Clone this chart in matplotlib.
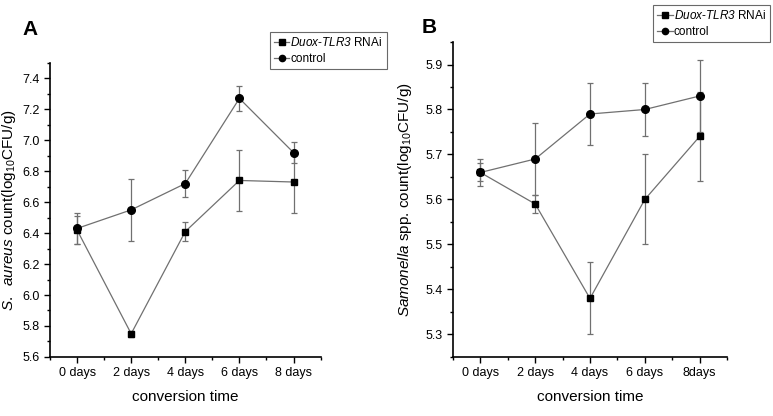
import matplotlib
matplotlib.use('Agg')
import matplotlib.pyplot as plt
from matplotlib.ticker import MultipleLocator
from matplotlib.lines import Line2D

FONT = 'Liberation Sans'
plt.rcParams['font.family'] = [FONT, 'DejaVu Sans']
plt.rcParams['mathtext.fontset'] = 'custom'
plt.rcParams['mathtext.rm'] = FONT
plt.rcParams['mathtext.it'] = FONT + ':italic'
# bf slot used for italic text that contains digits (mathit keeps digits upright)
plt.rcParams['mathtext.bf'] = FONT + ':italic'

days_a = ['0 days', '2 days', '4 days', '6 days', '8 days']
days_b = ['0 days', '2 days', '4 days', '6 days', '8days']

# panel A: S. aureus
a_rnai = [6.42, 5.75, 6.41, 6.74, 6.73]
a_rnai_err = [0.09, 0.02, 0.06, 0.20, 0.20]
a_ctrl = [6.43, 6.55, 6.72, 7.27, 6.92]
a_ctrl_err = [0.10, 0.20, 0.09, 0.08, 0.07]

# panel B: Salmonella
b_rnai = [5.66, 5.59, 5.38, 5.60, 5.74]
b_rnai_err = [0.02, 0.02, 0.08, 0.10, 0.10]
b_ctrl = [5.66, 5.69, 5.79, 5.80, 5.83]
b_ctrl_err = [0.03, 0.08, 0.07, 0.06, 0.08]

LINE = '#707070'
RNAI_LABEL = r'$\mathbf{Duox}$-$\mathbf{TLR3}$ RNAi'


def draw(ax, labels, rnai, rnai_err, ctrl, ctrl_err, ylim, major, minor):
    x = list(range(len(labels)))
    ax.errorbar(x, rnai, yerr=rnai_err, fmt='s-', color=LINE, mfc='black', mec='black',
                ms=5, lw=0.9, elinewidth=0.9, capsize=2.5, capthick=0.9)
    ax.errorbar(x, ctrl, yerr=ctrl_err, fmt='o-', color=LINE, mfc='black', mec='black',
                ms=5.5, lw=0.9, elinewidth=0.9, capsize=2.5, capthick=0.9)
    ax.set_xlim(-0.5, 4.5)
    ax.set_ylim(*ylim)
    ax.set_xticks(x)
    ax.set_xticklabels(labels, fontsize=9)
    ax.xaxis.set_minor_locator(MultipleLocator(0.5))
    ax.yaxis.set_major_locator(MultipleLocator(major))
    ax.yaxis.set_minor_locator(MultipleLocator(minor))
    ax.tick_params(which='major', direction='out', length=4, width=1, labelsize=9)
    ax.tick_params(which='minor', direction='out', length=2, width=1)
    for s in ['top', 'right']:
        ax.spines[s].set_visible(False)
    for s in ['left', 'bottom']:
        ax.spines[s].set_linewidth(1.2)
    ax.set_xlabel('conversion time', fontsize=11, labelpad=8)


fig = plt.figure(figsize=(7.73, 4.16), dpi=100)
axA = fig.add_axes([0.0647, 0.142, 0.350, 0.707])
axB = fig.add_axes([0.586, 0.142, 0.3545, 0.757])

draw(axA, days_a, a_rnai, a_rnai_err, a_ctrl, a_ctrl_err, (5.6, 7.5), 0.2, 0.1)
axA.set_yticks([5.6, 5.8, 6.0, 6.2, 6.4, 6.6, 6.8, 7.0, 7.2, 7.4])
axA.set_ylabel(r'$\mathit{S.}\ \ \mathit{aureus}$ count(log$_{10}$CFU/g)', fontsize=11, labelpad=3)
draw(axB, days_b, b_rnai, b_rnai_err, b_ctrl, b_ctrl_err, (5.25, 5.95), 0.1, 0.05)
axB.set_yticks([5.3, 5.4, 5.5, 5.6, 5.7, 5.8, 5.9])
axB.set_ylabel(r'$\mathit{Samonella}$ spp. count(log$_{10}$CFU/g)', fontsize=11, labelpad=8)

handles = [Line2D([], [], color=LINE, lw=0.9, marker='s', mfc='black', mec='black', ms=4),
           Line2D([], [], color=LINE, lw=0.9, marker='o', mfc='black', mec='black', ms=4.5)]
labels = [RNAI_LABEL, 'control']
for loc, anchor in [('upper left', (0.349, 0.923)), ('upper right', (0.996, 0.988))]:
    leg = fig.legend(handles, labels, loc=loc,
                     bbox_to_anchor=anchor, fontsize=8.5, frameon=True, fancybox=False,
                     handlelength=1.3, handletextpad=0.1, borderpad=0.35,
                     labelspacing=0.35, borderaxespad=0)
    leg.get_frame().set_edgecolor('#444444')
    leg.get_frame().set_linewidth(0.8)

fig.text(0.039, 0.93, 'A', fontsize=15, fontweight='bold', ha='center', va='center')
fig.text(0.555, 0.935, 'B', fontsize=15, fontweight='bold', ha='center', va='center')

fig.savefig('out.png', dpi=100)
